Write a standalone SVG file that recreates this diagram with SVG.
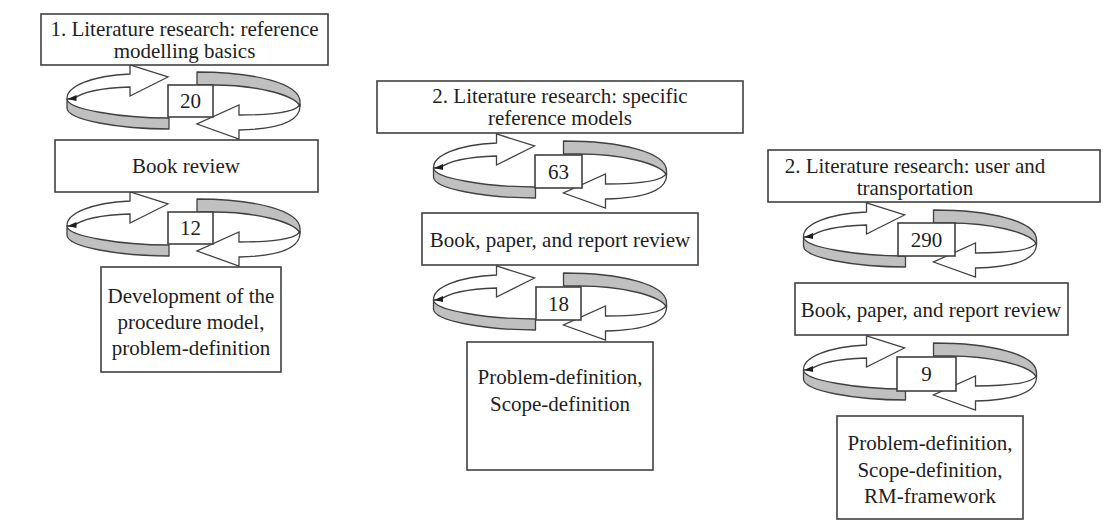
<svg xmlns="http://www.w3.org/2000/svg" width="1105" height="520" viewBox="0 0 1105 520">
<style>
.box{fill:#fff;stroke:#404040;stroke-width:1.6}
.t{font-family:"Liberation Serif","Times New Roman",serif;font-size:21px;fill:#1e1e1e;text-anchor:middle}
.band{fill:#c0c0c0;stroke:#404040;stroke-width:1.3;stroke-linejoin:round}
.rib{fill:#fff;stroke:#404040;stroke-width:1.3;stroke-linejoin:miter}
</style>
<defs>
<g id="cycle">
<path class="band" d="M 13.5 -14 L 13.5 -27 C 70 -27 116.5 -16 116.5 3 L 116.5 7 C 110 -5 70 -14 29.5 -14 Z"/>
<path class="rib" d="M 116.5 5 C 114 12 95 16 55.5 16 L 55.5 6 L 13.5 25 L 55.5 40 L 55.5 31 C 100 30 116.5 20 116.5 7 Z"/>
<path class="band" d="M -116.5 0 C -116.5 10 -64 19 -14.5 19 L -14.5 30 C -64 30 -116.5 21 -116.5 9 Z"/>
<path class="rib" d="M -116.5 0 C -117 -13 -92 -23 -53.5 -25 L -53.5 -34 L -15.5 -22 L -53.5 -3 L -53.5 -12 C -84 -11 -103 -6 -110 0 Z"/>
<polygon points="-116,0 -107,-4 -107,2" fill="#1e1e1e"/>
</g>
</defs>
<rect width="1105" height="520" fill="#fff"/>
<g id="connectors">
<use href="#cycle" transform="translate(183.5,99)"/>
<use href="#cycle" transform="translate(183.5,226)"/>
<use href="#cycle" transform="translate(550,168)"/>
<use href="#cycle" transform="translate(550,300)"/>
<use href="#cycle" transform="translate(920,237)"/>
<use href="#cycle" transform="translate(920,370)"/>
</g>
<g id="title1"><rect class="box" x="41" y="14" width="287" height="51"/>
<text class="t" x="184.5" y="36">1. Literature research: reference</text>
<text class="t" x="184.5" y="58">modelling basics</text></g>
<g id="n20"><rect class="box" x="168" y="85" width="45" height="32"/><text class="t" x="190.5" y="108">20</text></g>
<g id="bookreview"><rect class="box" x="55" y="140" width="263" height="52"/><text class="t" x="186" y="173">Book review</text></g>
<g id="n12"><rect class="box" x="168" y="212" width="45" height="32"/><text class="t" x="190.5" y="235">12</text></g>
<g id="development"><rect class="box" x="101" y="267" width="180" height="105"/>
<text class="t" x="191" y="303">Development of the</text>
<text class="t" x="191" y="329">procedure model,</text>
<text class="t" x="191" y="355">problem-definition</text></g>

<g id="title2"><rect class="box" x="377" y="81" width="366" height="52"/>
<text class="t" x="560" y="103">2. Literature research: specific</text>
<text class="t" x="560" y="125">reference models</text></g>
<g id="n63"><rect class="box" x="535" y="155" width="47" height="33"/><text class="t" x="558.5" y="179">63</text></g>
<g id="review2"><rect class="box" x="422" y="213" width="276" height="52"/><text class="t" x="560" y="247">Book, paper, and report review</text></g>
<g id="n18"><rect class="box" x="536" y="287" width="45" height="33"/><text class="t" x="558.5" y="311">18</text></g>
<g id="problem2"><rect class="box" x="467" y="342" width="186" height="128"/>
<text class="t" x="560" y="384">Problem-definition,</text>
<text class="t" x="560" y="411">Scope-definition</text></g>

<g id="title3"><rect class="box" x="768" y="150" width="332" height="52"/>
<text class="t" x="915" y="173">2. Literature research: user and</text>
<text class="t" x="915" y="195">transportation</text></g>
<g id="n290"><rect class="box" x="898" y="223" width="57" height="33"/><text class="t" x="926.5" y="247">290</text></g>
<g id="review3"><rect class="box" x="795" y="283" width="273" height="52"/><text class="t" x="931" y="317">Book, paper, and report review</text></g>
<g id="n9"><rect class="box" x="897" y="357" width="59" height="34"/><text class="t" x="926.5" y="381">9</text></g>
<g id="problem3"><rect class="box" x="837" y="416" width="186" height="103"/>
<text class="t" x="930" y="450">Problem-definition,</text>
<text class="t" x="930" y="477">Scope-definition,</text>
<text class="t" x="930" y="503">RM-framework</text></g>
</svg>
